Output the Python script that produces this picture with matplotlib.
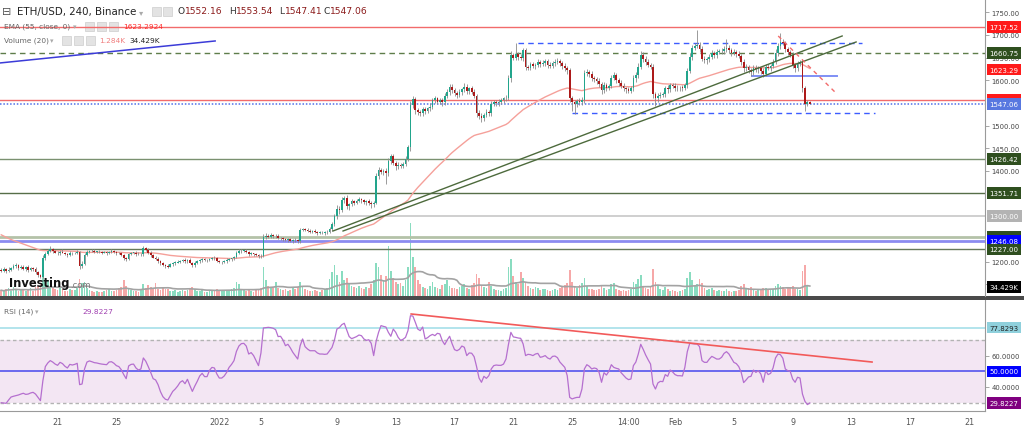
import numpy as np
import pandas as pd
import matplotlib
matplotlib.use('Agg')
import matplotlib.pyplot as plt
from matplotlib.patches import Rectangle
from matplotlib.transforms import blended_transform_factory as blend

W, H = 1024, 431

# ETH/USD 240 candles, index 0 = first visible candle
first_open = 1182
closes = [
    1180, 1183, 1179, 1182, 1186, 1190, 1192, 1186, 1189, 1184, 1188, 1181, 1185, 1183, 1176, 1170, 1167,
    1208, 1217, 1224, 1228, 1224, 1220, 1218, 1222, 1220, 1217, 1215, 1219, 1218, 1219, 1221, 1190, 1195,
    1214, 1222, 1224, 1223, 1222, 1222, 1221, 1220, 1220, 1219, 1222, 1223, 1221, 1219, 1218, 1215, 1208,
    1206, 1216, 1219, 1220, 1217, 1216, 1217, 1229, 1225,
    1220, 1214, 1209, 1206, 1202, 1196, 1192, 1190, 1189, 1194, 1197, 1198, 1200, 1202, 1203, 1201, 1204,
    1198, 1192, 1197, 1201, 1204, 1205, 1203, 1203, 1206, 1208, 1207, 1202, 1199, 1199, 1201, 1203, 1205,
    1207, 1210, 1219, 1223, 1224, 1224, 1222, 1217, 1218, 1216, 1214, 1213, 1212,
    1254, 1257, 1255, 1258, 1256, 1257, 1251, 1252, 1249, 1247, 1249, 1246, 1248, 1247, 1245, 1270, 1272,
    1270, 1268, 1266, 1268, 1265, 1263, 1264, 1262, 1265, 1266,
    1272, 1282, 1300, 1316, 1314, 1336, 1340, 1322, 1326, 1333, 1330, 1334, 1337, 1335, 1331, 1333, 1330,
    1326, 1330, 1388, 1402, 1398, 1400, 1396, 1422, 1432, 1418, 1410, 1414, 1411, 1416, 1426, 1452, 1545,
    1558,
    1534, 1530, 1527, 1536, 1533, 1538, 1542, 1556, 1560, 1553, 1556, 1551, 1566, 1574, 1586, 1578, 1572,
    1568, 1574, 1580, 1586, 1576, 1582, 1575, 1566, 1528, 1522, 1517, 1524, 1530, 1528, 1548, 1552, 1550,
    1553, 1556, 1560, 1562, 1604, 1655, 1650, 1657, 1651, 1649, 1666, 1630, 1628, 1635, 1632, 1634, 1640,
    1636, 1638, 1642, 1634, 1632, 1638, 1641, 1643, 1638, 1632, 1626, 1622, 1560, 1552, 1548, 1554, 1552,
    1556,
    1615, 1618, 1614, 1606, 1602, 1598, 1592, 1578, 1590, 1584, 1588, 1606, 1612, 1600, 1594, 1588, 1582,
    1580, 1577, 1582, 1604, 1612, 1630, 1656, 1648, 1640, 1634, 1630, 1570, 1560, 1566, 1568, 1570, 1584,
    1580, 1590, 1588, 1584, 1582, 1584, 1583, 1590, 1620, 1652, 1672, 1676, 1678, 1670, 1648, 1644, 1646,
    1652, 1660, 1656, 1662, 1665, 1664, 1668, 1672, 1666, 1660, 1662, 1658, 1654, 1640, 1626, 1630, 1622,
    1618, 1628, 1624, 1626, 1620, 1614, 1630, 1628, 1632, 1640, 1660, 1676, 1684, 1682, 1668, 1662, 1656,
    1634, 1626, 1636, 1640, 1582, 1548, 1552.16, 1547.06,
]
up_wick = [
    3, 4, 2, 5, 3, 4, 6, 2, 3, 4, 2, 5, 3, 2, 4, 3, 2, 6, 5, 4,
    6, 3, 2, 4, 3, 5, 2, 3, 4, 2, 3, 4, 2, 6, 4, 3, 2, 3, 4, 2,
    3, 2, 4, 3, 2, 5, 3, 2, 3, 4, 2, 3, 4, 3, 2, 3, 4, 2, 6, 3,
    4, 3, 2, 3, 4, 2, 3, 2, 4, 3, 2, 4, 3, 2, 3, 4, 2, 3, 2, 4,
    3, 2, 4, 3, 2, 3, 2, 4, 3, 2, 3, 2, 4, 3, 2, 3, 5, 4, 3, 2,
    3, 2, 4, 2, 3, 2, 4, 6, 5, 3, 4, 2, 3, 4, 2, 3, 2, 4, 3, 2,
    3, 2, 5, 3, 2, 4, 3, 2, 3, 2, 4, 3, 2, 3, 5, 6, 4, 8, 6, 7,
    5, 6, 4, 5, 3, 4, 5, 3, 4, 3, 5, 4, 3, 8, 6, 5, 4, 6, 7, 5,
    6, 4, 5, 3, 4, 6, 5, 10, 8, 6, 5, 4, 6, 5, 4, 7, 5, 6, 4, 5,
    6, 5, 7, 5, 6, 4, 5, 6, 4, 7, 5, 4, 6, 5, 4, 6, 5, 4, 6, 5,
    6, 5, 4, 6, 5, 4, 5, 8, 9, 6, 25, 5, 7, 6, 5, 4, 6, 5, 4, 6,
    5, 6, 4, 5, 6, 4, 5, 6, 4, 5, 6, 5, 6, 5, 4, 5, 6, 8, 7, 6,
    5, 6, 4, 5, 6, 4, 6, 5, 4, 6, 7, 5, 4, 6, 5, 4, 5, 6, 7, 6,
    8, 9, 6, 5, 6, 5, 6, 4, 5, 6, 5, 4, 6, 5, 4, 6, 5, 4, 6, 5,
    7, 8, 6, 7, 33, 6, 5, 6, 5, 6, 7, 5, 6, 5, 6, 7, 19, 6, 5, 6,
    5, 6, 5, 6, 5, 4, 6, 5, 6, 5, 4, 6, 5, 6, 5, 7, 8, 6, 21, 6,
    5, 6, 5, 6, 5, 6, 5, 6, 5, 4, 1.4,
]
dn_wick = [
    3, 2, 4, 3, 2, 3, 4, 5, 3, 2, 4, 3, 2, 4, 3, 5, 4, 3, 4, 2,
    3, 4, 2, 3, 4, 2, 3, 4, 2, 3, 2, 3, 6, 4, 3, 2, 3, 2, 3, 4,
    2, 3, 2, 4, 3, 2, 3, 4, 2, 3, 5, 4, 3, 2, 3, 4, 2, 3, 4, 2,
    3, 4, 2, 3, 4, 3, 2, 4, 3, 2, 3, 4, 2, 3, 2, 4, 3, 2, 4, 3,
    2, 3, 4, 2, 3, 2, 3, 4, 2, 3, 4, 2, 3, 2, 4, 3, 2, 3, 4, 2,
    3, 4, 2, 3, 2, 4, 3, 2, 4, 3, 2, 3, 4, 2, 3, 4, 2, 3, 2, 4,
    3, 4, 3, 2, 3, 2, 4, 3, 2, 4, 3, 2, 3, 4, 3, 5, 4, 6, 8, 5,
    6, 5, 8, 4, 5, 4, 3, 5, 4, 6, 5, 7, 5, 4, 6, 5, 6, 25, 8, 6,
    5, 7, 6, 5, 4, 6, 5, 7, 6, 8, 7, 6, 5, 7, 6, 5, 6, 7, 5, 6,
    7, 5, 6, 7, 5, 6, 7, 5, 6, 5, 7, 6, 5, 6, 8, 7, 9, 6, 5, 7,
    6, 5, 6, 7, 5, 6, 5, 6, 7, 5, 6, 7, 5, 6, 7, 6, 5, 6, 7, 5,
    6, 5, 7, 6, 5, 6, 7, 5, 6, 7, 6, 8, 7, 20, 22, 8, 6, 7, 6, 5,
    6, 7, 5, 6, 7, 8, 6, 7, 5, 6, 5, 6, 7, 6, 5, 7, 6, 5, 6, 7,
    6, 5, 7, 6, 5, 6, 8, 17, 7, 6, 5, 6, 7, 5, 6, 7, 5, 6, 7, 5,
    6, 5, 7, 6, 5, 7, 6, 5, 7, 6, 5, 6, 7, 5, 6, 7, 5, 6, 7, 5,
    6, 5, 7, 8, 6, 5, 9, 7, 6, 8, 6, 7, 5, 6, 7, 6, 5, 6, 7, 5,
    6, 7, 5, 6, 7, 6, 5, 8, 16, 5, 0.3,
]
# volume in thousands
volumes = [
    22, 18, 25, 30, 20, 35, 28, 18, 22, 26, 20, 24, 30, 18, 35, 40, 45,
    75, 55, 60, 40, 30, 25, 22, 35, 28, 20, 18, 26, 22, 24, 30, 65, 48,
    55, 30, 22, 18, 15, 20, 16, 14, 18, 22, 25, 18, 20, 24, 30, 35, 62, 40, 30, 22, 18, 20, 16, 24, 45, 30,
    42, 35, 30, 48, 28, 22, 30, 25, 28, 20, 18, 22, 16, 20, 24, 18, 22, 30, 35, 26,
    20, 18, 24, 16, 14, 22, 20, 18, 26, 24, 20, 18, 22, 20, 26, 30, 52, 45, 28, 22, 20, 26, 18, 16, 22, 24, 30,
    112, 60, 40, 35, 30, 55, 32, 25, 22, 28, 20, 24, 30, 26, 35, 52, 38, 28, 22, 20, 18, 24, 20, 16, 22, 25, 30,
    65, 90, 120, 80, 55, 95, 60, 70, 45, 40, 35, 30, 38, 32, 28, 35, 30, 45, 60, 125,
    110, 80, 60, 75, 190, 95, 70, 55, 45, 50, 40, 60, 110, 280, 150,
    110, 60, 45, 35, 30, 28, 38, 55, 35, 30, 28, 42, 45, 60, 38, 32, 30, 26, 34, 38,
    45, 30, 28, 42, 48, 85, 70, 42, 34, 30, 55, 38, 26, 22, 24, 20, 26, 30, 110, 140,
    75, 55, 45, 90, 70, 55, 38, 30, 26, 34, 30, 22, 26, 28, 22, 20, 24, 26, 22, 30,
    36, 42, 48, 100, 55, 38, 30, 42, 48,
    70, 40, 28, 25, 22, 24, 26, 40, 30, 22, 25, 45, 50, 28, 24, 20, 22, 18, 24, 28,
    55, 45, 65, 80, 40, 30, 26, 35, 105, 55, 38, 28, 24, 35, 25, 20, 22, 18, 16, 20,
    22, 26, 70, 90, 60, 40, 45, 65, 50, 30, 24, 28, 32, 24, 20, 22, 18, 20, 28, 18,
    16, 20, 18, 22, 40, 45, 28, 30, 35, 25, 20, 22, 28, 30, 32, 25, 22, 28, 40, 45,
    40, 35, 28, 30, 35, 40, 28, 25, 24, 95, 120, 40, 1.284,
]
rsi = [
    30.0, 29.8, 29.6, 31.7, 33.6, 34.1, 34.5, 34.9, 35.5, 36.0, 35.3, 35.5, 36.2, 36.6, 35.5, 33.4, 31.3,
    44.0, 53.0, 55.3, 56.8, 55.9, 54.6, 53.8, 55.7, 54.9, 53.2, 52.1, 54.4, 54.0, 54.4, 55.1, 41.5, 41.9,
    51.5, 55.9, 56.6, 56.1, 55.5, 55.3, 54.9, 54.6, 54.4, 54.2, 55.9, 56.1, 55.1, 53.6, 53.0, 51.0, 47.9,
    45.3, 53.4, 54.4, 54.6, 52.1, 50.8, 51.5, 58.5, 56.4,
    53.0, 49.3, 45.3, 44.5, 41.5, 37.0, 33.8, 32.2, 31.7, 34.5, 37.2, 38.7, 40.6, 43.0, 44.0, 42.1, 44.9,
    40.9, 37.2, 40.6, 43.6, 47.0, 48.7, 46.6, 46.6, 50.6, 52.5, 52.1, 48.3, 45.7, 45.7, 47.0, 49.3, 52.5,
    54.4, 56.8, 62.7, 66.1, 67.6, 67.8, 66.1, 61.0, 61.9, 60.0, 56.8, 53.6, 61.7,
    77.6, 77.8, 78.0, 77.8, 77.4, 76.5, 72.1, 72.3, 69.9, 66.3, 67.2, 64.9, 62.1, 60.0, 57.8, 66.3, 70.6,
    65.7, 64.2, 63.1, 63.1, 63.1, 61.7, 61.0, 61.0, 60.8, 61.0, 63.1, 65.2, 69.9, 76.9, 77.8, 79.7, 80.6,
    76.3, 72.1, 70.8, 71.4, 72.1, 73.1, 72.7, 70.6, 69.7, 70.1, 67.8, 60.0, 69.1, 74.8, 79.1, 78.6, 78.2,
    74.8, 72.3, 76.9, 74.8, 71.6, 69.7, 70.4, 71.6, 75.9, 85.4, 85.2,
    81.2, 76.9, 75.9, 78.2, 70.6, 71.4, 72.7, 73.5, 72.7, 74.2, 73.8, 69.5, 67.0, 69.9, 72.3, 67.6, 63.8,
    63.1, 64.0, 66.1, 65.3, 60.0, 61.7, 61.5, 59.3, 53.0, 45.7, 43.0, 46.8, 45.5, 47.2, 51.5, 53.6, 54.0,
    53.8, 53.8, 54.6, 57.8, 67.0, 74.8, 71.9, 71.6, 71.2, 71.0, 67.4, 60.0, 60.8, 60.6, 60.0, 61.0, 61.4,
    58.9, 59.3, 60.0, 58.5, 57.8, 59.5, 59.7, 58.7, 55.9, 54.2, 52.5, 47.2, 33.4, 32.4, 33.0, 33.4, 33.4,
    38.7,
    51.5, 54.2, 53.2, 51.5, 52.1, 51.7, 49.3, 43.0, 49.1, 47.6, 50.0, 54.2, 52.5, 51.9, 51.5, 49.1, 47.4,
    45.7, 44.7, 45.1, 53.6, 55.9, 61.0, 67.2, 64.0, 60.4, 57.4, 54.6, 41.9, 38.7, 42.6, 43.6, 43.4, 47.9,
    46.8, 50.8, 49.6, 47.9, 47.2, 47.2, 47.0, 52.5, 62.5, 67.8, 67.6, 67.4, 67.4, 65.7, 56.8, 55.7, 55.7,
    57.8, 59.5, 58.7, 57.8, 57.8, 58.9, 61.4, 62.5, 61.0, 58.3, 55.7, 54.9, 53.0, 49.3, 42.8, 44.5, 46.4,
    46.8, 50.8, 49.3, 50.4, 48.3, 43.0, 50.4, 47.9, 48.7, 52.1, 58.5, 61.0, 60.6, 58.3, 51.5, 50.4, 50.0,
    45.1, 43.0, 46.2, 45.7, 35.5, 30.9, 28.8, 29.8227,
]
ema_start = 1262          # EMA(55) value at the left edge
ema_len = 55
vol_ma_len = 20

tick_pos = [23, 47, 89, 106, 137, 161, 185, 209, 233, 256, 275, 299, 323, 347, 371, 395]
tick_lbl = ['21', '25', '2022', '5', '9', '13', '17', '21', '25', '14:00', 'Feb', '5', '9', '13', '17', '21']
price_ticks = [1150, 1200, 1400, 1450, 1500, 1600, 1650, 1700, 1750]   # the ones not hidden by tags

# horizontal levels drawn on the chart
level_prices = [1717.52, 1660.75, 1556.69, 1547.06, 1426.42, 1351.71, 1300.00, 1255.33, 1246.08, 1227.00]
level_colors = ['#f26b6b', '#5e7d4a', '#f26b6b', '#4f6fe8', '#7a9170', '#566e48', '#cccccc', '#b4c2a8', '#8c8cf0', '#66795a']
level_styles = ['-', (0, (4, 3)), '-', (0, (1, 1.2)), '-', '-', '-', '-', '-', '-']
level_widths = [1, 1, 1, 1.1, 1, 1, 1.3, 2, 2, 1]

# price-axis labels: value, background, text colour
price_tags = [
    (1717.52, '#ff1a1a', 'white'), (1660.75, '#2f4f1f', 'white'), (1623.29, '#ff1a1a', 'white'),
    (1556.69, '#ff1a1a', 'white'), (1547.06, '#5878e0', 'white'), (1426.42, '#2f4f1f', 'white'),
    (1351.71, '#2f4f1f', 'white'), (1300.00, '#b3b3b3', 'white'), (1255.33, '#2f4f1f', 'white'),
    (1246.08, '#0000ff', 'white'), (1227.00, '#2f4f1f', 'white'),
]
rsi_tags = [(77.8293, '#8fd0dc', '#222222'), (50.0, '#0000ff', 'white'), (29.8227, '#800080', 'white')]

# drawn tools: (index, price) end points
green_trend = [((135.4, 1267.5), (343.2, 1697.7)), ((139.5, 1267.5), (348.9, 1684.5))]
red_dash = ((317.1, 1697.7), (341.1, 1569.6))
blue_trend = ((-0.5, 1638.2), (87.3, 1686.7))
box_top = (210.9, 351.3, 1681.6)
box_bottom = (233.0, 356.7, 1527.9)
support = (306.4, 341.1, 1610.1)
rsi_trend = ((167.3, 86.5), (355.4, 55.9))
rsi_level = 77.8293

UP, DN = '#22a58c', '#ad1a1a'
VUP, VDN = '#8adcc0', '#f6a8a8'

n = len(closes)
assert len(up_wick) == n and len(dn_wick) == n and len(volumes) == n and len(rsi) == n, \
    (n, len(up_wick), len(dn_wick), len(volumes), len(rsi))

idx = np.arange(n)
c = np.array(closes, float)
o = np.r_[first_open, c[:-1]]
hi = np.maximum(o, c) + np.array(up_wick, float)
lo = np.minimum(o, c) - np.array(dn_wick, float)
rising = c >= o
ema = pd.Series([ema_start] + closes).ewm(span=ema_len, adjust=False).mean().to_numpy()[1:]
vol_ma = pd.Series(volumes).rolling(vol_ma_len, min_periods=1).mean()

fig = plt.figure(figsize=(W / 100, H / 100), dpi=100)
fig.patch.set_facecolor('white')


def rect(x0, y0, x1, y1):
    return [x0 / W, 1 - y1 / H, (x1 - x0) / W, (y1 - y0) / H]


ax_vol = fig.add_axes(rect(0, 0, 985, 297), zorder=1)
ax = fig.add_axes(rect(0, 0, 985, 297), zorder=2)
ax_rsi = fig.add_axes(rect(0, 301, 985, 412), zorder=2)
xlim = (-0.5, 401.5)

# volume
ax_vol.bar(idx, volumes, width=0.7, color=np.where(rising, VUP, VDN), lw=0)
ax_vol.plot(idx, vol_ma, color='#a3a3a3', lw=1.2)
ax_vol.set_xlim(*xlim)
ax_vol.set_ylim(0, 34.429 * 297 / 9)
ax_vol.set_axis_off()

# price pane
ax.patch.set_visible(False)
ax.set_xlim(*xlim)
ax.set_ylim(1124.1, 1779.3)
for p, col, ls, lw in zip(level_prices, level_colors, level_styles, level_widths):
    ax.axhline(p, color=col, ls=ls, lw=lw, zorder=1)
(x0, y0), (x1, y1) = blue_trend
ax.plot([x0, x1], [y0, y1], color='#3b3bd8', lw=1.1, zorder=2)
for (x0, y0), (x1, y1) in green_trend:
    ax.plot([x0, x1], [y0, y1], color='#4d6a3c', lw=1.0, zorder=5)
for xa, xb, p in (box_top, box_bottom):
    ax.plot([xa, xb], [p, p], color='#3d5cff', lw=1.0, ls=(0, (4, 3)), zorder=2)
ax.plot([support[0], support[1]], [support[2], support[2]], color='#7f8ff5', lw=1.4, zorder=2)
(x0, y0), (x1, y1) = red_dash
ax.plot([x0, x1], [y0, y1], color='#f26b6b', lw=1.0, ls=(0, (3, 3)), zorder=5)
ax.plot(idx, ema, color='#f5a09a', lw=1.0, zorder=2)

ax.vlines(idx, lo, hi, color='#8a8a8a', lw=0.6, zorder=3)
ax.bar(idx, np.maximum(np.abs(c - o), 1.2), bottom=np.minimum(o, c), width=0.7,
       color=np.where(rising, UP, DN), lw=0, zorder=4)

for s in ('top', 'left', 'bottom'):
    ax.spines[s].set_visible(False)
ax.spines['right'].set_color('#9a9a9a')
ax.spines['right'].set_linewidth(0.8)
ax.set_xticks([])
ax.yaxis.tick_right()
ax.set_yticks(price_ticks, [f'{v:.2f}' for v in price_ticks])
ax.tick_params(axis='y', direction='out', length=3, width=0.6, color='#999999',
               labelsize=4.9, labelcolor='#444444', pad=1.5)

tr = blend(ax.transAxes, ax.transData)
for p, bg, fg in price_tags:
    ax.text(1 + 4.5 / 985, p, f'{p:.2f}', transform=tr, ha='left', va='center', fontsize=5.0,
            color=fg, clip_on=False, zorder=10,
            bbox=dict(boxstyle='square,pad=0.4', fc=bg, ec='none'))
ax.text(1 + 4.5 / 985, 34.429, '34.429K', transform=blend(ax.transAxes, ax_vol.transData),
        ha='left', va='center', fontsize=5.0, color='white', clip_on=False, zorder=10,
        bbox=dict(boxstyle='square,pad=0.4', fc='black', ec='none'))

# RSI pane
ax_rsi.set_xlim(*xlim)
ax_rsi.set_ylim(24.71, 95.41)
ax_rsi.axhspan(30, 70, color='#f3e6f3', lw=0, zorder=0)
ax_rsi.axhline(70, color='#b3b3b3', lw=1, ls=(0, (2.5, 2)), zorder=1)
ax_rsi.axhline(30, color='#b3b3b3', lw=1, ls=(0, (2.5, 2)), zorder=1)
ax_rsi.axhline(50, color='#5454ee', lw=1.2, zorder=1)
ax_rsi.axhline(rsi_level, color='#a6dfe9', lw=1.2, zorder=1)
ax_rsi.plot(idx, rsi, color='#b56fcf', lw=0.9, zorder=3)
(x0, y0), (x1, y1) = rsi_trend
ax_rsi.plot([x0, x1], [y0, y1], color='#f25a5a', lw=1.2, zorder=4)
for s in ('top', 'left'):
    ax_rsi.spines[s].set_visible(False)
for s in ('right', 'bottom'):
    ax_rsi.spines[s].set_color('#9a9a9a')
    ax_rsi.spines[s].set_linewidth(0.8)
ax_rsi.yaxis.tick_right()
ax_rsi.set_yticks([40, 60], ['40.0000', '60.0000'])
ax_rsi.tick_params(axis='y', direction='out', length=3, width=0.6, color='#999999',
                   labelsize=4.9, labelcolor='#444444', pad=1.5)
ax_rsi.set_xticks(tick_pos, tick_lbl)
ax_rsi.tick_params(axis='x', length=0, pad=4, labelsize=5.8, labelcolor='#555555')
tr = blend(ax_rsi.transAxes, ax_rsi.transData)
for v, bg, fg in rsi_tags:
    ax_rsi.text(1 + 4.5 / 985, v, f'{v:.4f}', transform=tr, ha='left', va='center', fontsize=5.0,
                color=fg, clip_on=False, zorder=10,
                bbox=dict(boxstyle='square,pad=0.4', fc=bg, ec='none'))

# pane separator
fig.add_artist(Rectangle((0, 1 - 300.5 / H), 1, 3.5 / H, transform=fig.transFigure,
                         fc='#4a4a4a', ec='none'))


def ftext(x, y, s, **kw):
    fig.text(x / W, 1 - y / H, s, ha='left', va='center', **kw)


def icon(x, y):
    fig.add_artist(Rectangle((x / W, 1 - (y + 4.5) / H), 9 / W, 9 / H, transform=fig.transFigure,
                             fc='#e3e3e3', ec='#cdcdcd', lw=0.5))


# legend rows
ftext(2, 12, '⊟', fontsize=8, color='#555555')
ftext(17, 12, 'ETH/USD, 240, Binance', fontsize=7.4, color='#222222')
ftext(139, 12.5, '▾', fontsize=6, color='#aaaaaa')
icon(152, 12)
icon(163, 12)
for x, k, v in ((178, 'O', '1552.16'), (229, 'H', '1553.54'), (279, 'L', '1547.41'), (324, 'C', '1547.06')):
    ftext(x, 12, k, fontsize=6.6, color='#333333')
    ftext(x + (7 if k in 'OH' else 6), 12, v, fontsize=6.6, color='#8b1a1a')

ftext(4, 27, 'EMA (55, close, 0)', fontsize=5.3, color='#666666')
ftext(73, 27, '▾', fontsize=5, color='#aaaaaa')
for x in (85, 97, 109):
    icon(x, 27)
ftext(123, 27, '1623.2924', fontsize=5.3, color='#ff2a2a')

ftext(4, 41, 'Volume (20)', fontsize=5.3, color='#666666')
ftext(50, 41, '▾', fontsize=5, color='#aaaaaa')
for x in (62, 74, 86):
    icon(x, 41)
ftext(99, 41, '1.284K', fontsize=5.3, color='#f07f7f')
ftext(129, 41, '34.429K', fontsize=5.3, color='#222222')

ftext(4, 312, 'RSI (14)', fontsize=5.3, color='#666666')
ftext(35, 312, '▾', fontsize=5, color='#aaaaaa')
for x in (47, 57, 67):
    icon(x, 312)
ftext(82, 312, '29.8227', fontsize=5.3, color='#a040b0')

ftext(9, 284, 'Investing', fontsize=8.3, fontweight='bold', color='#111111')
ftext(70, 286, '.com', fontsize=6, color='#777777')

fig.savefig('out.png', dpi=100, facecolor='white')
